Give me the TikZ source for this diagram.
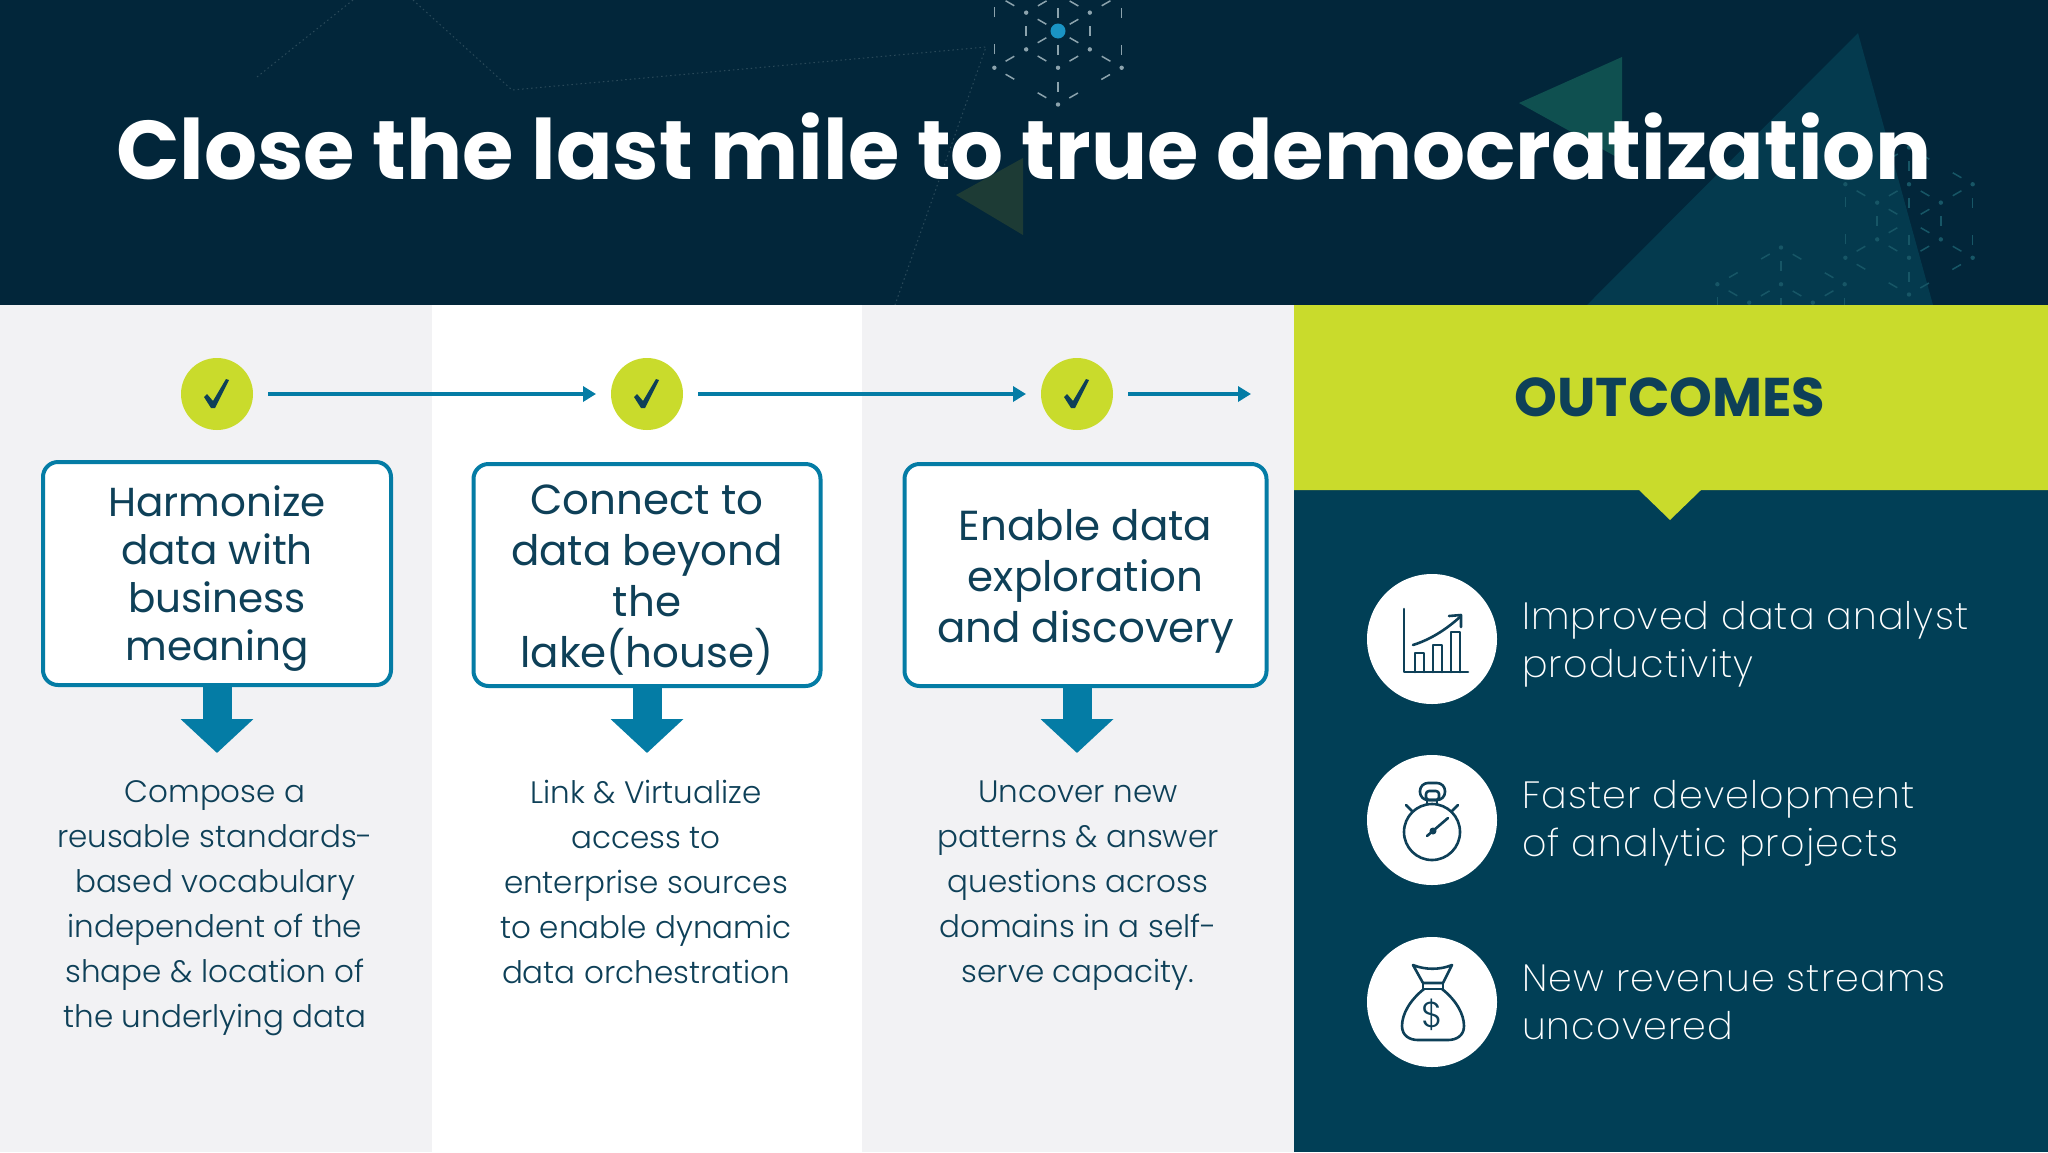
\documentclass[tikz,border=0pt]{standalone}
\usepackage{fontspec}
\setmainfont{Poppins Light}[BoldFont=Poppins Bold]
\newfontfamily\medfont{Poppins}
\newfontfamily\thinfont{Poppins ExtraLight}[LetterSpace=3]
\usetikzlibrary{arrows.meta}
\definecolor{headbg}{HTML}{02263A}
\definecolor{panelgrey}{HTML}{F2F2F4}
\definecolor{limegreen}{HTML}{C9DB2C}
\definecolor{flowblue}{HTML}{047CA5}
\definecolor{panelteal}{HTML}{013F56}
\definecolor{inktext}{HTML}{0E4058}
\definecolor{bigtri}{HTML}{043A4E}
\definecolor{greentri}{HTML}{0F5050}
\definecolor{darktri}{HTML}{1D3B35}
\definecolor{faintline}{HTML}{2A4A5A}
\definecolor{hexgrey}{HTML}{8CA3AD}
\definecolor{hexblue}{HTML}{175666}
\definecolor{dotblue}{HTML}{1A94C4}
\newcommand{\topgap}[1]{\rule{0pt}{#1pt}}
\newcommand{\hexmark}[4]{
  \foreach \a in {30,90,...,330} {
    \draw[#4, hexdash] (#1,#2) -- ++(\a:#3);
    \draw[#4, hexdash] (#1,#2) ++(\a:#3) -- ++(\a+120:#3);
    \draw[#4, hexdash] (#1,#2) ++(\a:#3/2) -- ++(\a+120:#3/2);
    \fill[#4] (#1,#2) ++(\a:#3) circle (2.2);
    \fill[#4] (#1,#2) ++(\a:#3/2) circle (2.2);
  }
}
\tikzset{
  hexdash/.style={line width=1.5pt, dash pattern=on 10pt off 27pt, dash phase=23.5pt},
  check/.style={circle, fill=limegreen, minimum size=72pt, inner sep=0pt, outer sep=0pt},
  stepbox/.style={draw=flowblue, fill=white, line width=4pt, rounded corners=15pt, align=center,
    text=inktext, inner sep=0pt, outer sep=0pt, font=\medfont\fontsize{40.5}{48}\selectfont},
  flow/.style={draw=flowblue, line width=3.5pt, shorten <=15pt, shorten >=15pt,
    -{Triangle[width=15pt,length=13pt]}},
  down/.style={draw=flowblue, line width=29pt, -{Triangle[width=71pt,length=34pt]}},
  note/.style={align=center, text=inktext, inner sep=0pt, anchor=north, font=\fontsize{31}{45}\selectfont},
  badge/.style={circle, fill=white, minimum size=130pt, inner sep=0pt, outer sep=0pt},
  gain/.style={anchor=west, align=left, text=white, inner sep=0pt, font=\thinfont\fontsize{38}{48}\selectfont},
  icon/.style={draw=inktext, line width=2.6pt, line join=round, line cap=round}
}
\begin{document}
\begin{tikzpicture}[x=1pt,y=-1pt]
  \useasboundingbox (0,0) rectangle (2048,1152);
  \fill[headbg] (0,0) rectangle (2048,305);
  \fill[bigtri] (1858,33) -- (1933,305) -- (1587,305) -- cycle;
  \fill[greentri] (1622,57) -- (1519,103) -- (1622,160) -- cycle;
  \fill[darktri] (1023,158) -- (956,195) -- (1023,235) -- cycle;
  \draw[faintline, dash pattern=on 1.5pt off 3pt, line width=1pt]
    (353,0) -- (257,77) (413,0) -- (512,90) -- (986,47) -- (895,305);
  \hexmark{1058}{31}{73.5}{hexgrey}
  \hexmark{1909}{221}{73.5}{hexblue}
  \hexmark{1781}{321}{73.5}{hexblue}
  \fill[dotblue] (1058,31) circle (7.5);

  \fill[panelgrey] (0,305) rectangle (432,1152);
  \fill[white] (432,305) rectangle (862,1152);
  \fill[panelgrey] (862,305) rectangle (1294,1152);
  \fill[panelteal] (1294,490) rectangle (2048,1152);
  \fill[limegreen] (1294,305) -- (2048,305) -- (2048,490) -- (1701,490) -- (1670,520) -- (1639,490) -- (1294,490) -- cycle;

  \node[font=\bfseries\fontsize{83.3}{90}\selectfont, text=white, inner sep=0pt] (title) at (1024,146)
    {Close the last mile to true democratization};

  \node[check] (chk1) at (217,394) {};
  \node[check] (chk2) at (647,394) {};
  \node[check] (chk3) at (1077,394) {};
  \coordinate (end3) at (1266,394);
  \foreach \n in {1,2,3}
    \fill[inktext] (chk\n) ++(-13,3) -- ++(3,-3) -- ++(6,7) -- ++(13,-22) -- ++(3,1) -- ++(-14,28) -- ++(-4,0) -- cycle;
  \draw[flow] (chk1) -- (chk2);
  \draw[flow] (chk2) -- (chk3);
  \draw[flow] (chk3) -- (end3);

  \node[stepbox, minimum width=348pt, minimum height=223pt] (box1) at (217,573.5)
    {\topgap{41}Harmonize\\data with\\business\\meaning};
  \node[stepbox, minimum width=347pt, minimum height=222pt, font=\medfont\fontsize{42}{51}\selectfont] (box2) at (647,575)
    {\topgap{39}Connect to\\data beyond\\the\\lake(house)};
  \node[stepbox, minimum width=362pt, minimum height=222pt, font=\medfont\fontsize{42}{51}\selectfont] (box3) at (1085.5,575)
    {\topgap{44}Enable data\\exploration\\and discovery};

  \coordinate (tip1) at (217,753);
  \coordinate (tip2) at (647,753);
  \coordinate (tip3) at (1077,753);
  \draw[down] (box1.south) -- (tip1);
  \draw[down] (box2.south) -- (tip2);
  \draw[down] (box3.south -| tip3) -- (tip3);

  \node[note] (text1) at (215,780)
    {Compose a\\reusable standards-\\based vocabulary\\independent of the\\shape \& location of\\the underlying data};
  \node[note] (text2) at (646,779.5)
    {Link \& Virtualize\\access to\\enterprise sources\\to enable dynamic\\data orchestration};
  \node[note] (text3) at (1078,780.5)
    {Uncover new\\patterns \& answer\\questions across\\domains in a self-\\serve capacity.};

  \node[font=\bfseries\fontsize{54.5}{56}\selectfont, text=inktext, inner sep=0pt] (outcomes) at (1670,397) {OUTCOMES};

  \node[badge] (chart) at (1432,639) {};
  \node[badge] (watch) at (1432,820) {};
  \node[badge] (bag) at (1432,1002) {};
  \node[gain] (gain1) at (1522,644) {Improved data analyst\\productivity};
  \node[gain] (gain2) at (1522,823) {Faster development\\of analytic projects};
  \node[gain] (gain3) at (1522,1002) {New revenue streams\\uncovered};

  \draw[icon] (1404,609) -- (1404,672) -- (1468,672);
  \draw[icon] (1415,672) -- (1415,653) -- (1424,653) -- (1424,672);
  \draw[icon] (1433,672) -- (1433,645) -- (1442,645) -- (1442,672);
  \draw[icon] (1451,672) -- (1451,632) -- (1460,632) -- (1460,672);
  \draw[icon] (1413,645) .. controls (1432,639) and (1448,628) .. (1461,616);
  \draw[icon] (1449,616) -- (1461,615) -- (1461,627);

  \draw[icon] (1432,832) circle (28);
  \draw[icon, rounded corners=8pt] (1420,800) -- (1420,783) -- (1445,783) -- (1445,800) -- cycle;
  \draw[icon, rounded corners=3pt] (1426,800) -- (1426,791) -- (1439,791) -- (1439,800) -- cycle;
  \draw[icon] (1427,800) -- (1427,804) (1437,800) -- (1437,804);
  \draw[icon] (1412,811) -- (1406,805) (1452,811) -- (1458,805);
  \draw[icon] (1427,836) -- (1448,818);
  \fill[inktext] (1433,831) circle (3.5);

  \draw[icon] (1413,965) .. controls (1425,970) and (1440,970) .. (1452,965) -- (1443,983) -- (1423,983) -- cycle;
  \draw[icon] (1423,983) -- (1423,989) -- (1443,989) -- (1443,983);
  \draw[icon] (1424,989) .. controls (1410,1000) and (1402,1014) .. (1402,1026)
    .. controls (1402,1036) and (1410,1040) .. (1418,1040) -- (1448,1040)
    .. controls (1456,1040) and (1464,1036) .. (1464,1026)
    .. controls (1464,1014) and (1456,1000) .. (1442,989);
  \node[text=inktext, inner sep=0pt, font=\fontsize{36}{36}\selectfont] (dollar) at (1432,1015) {\$};
\end{tikzpicture}
\end{document}
